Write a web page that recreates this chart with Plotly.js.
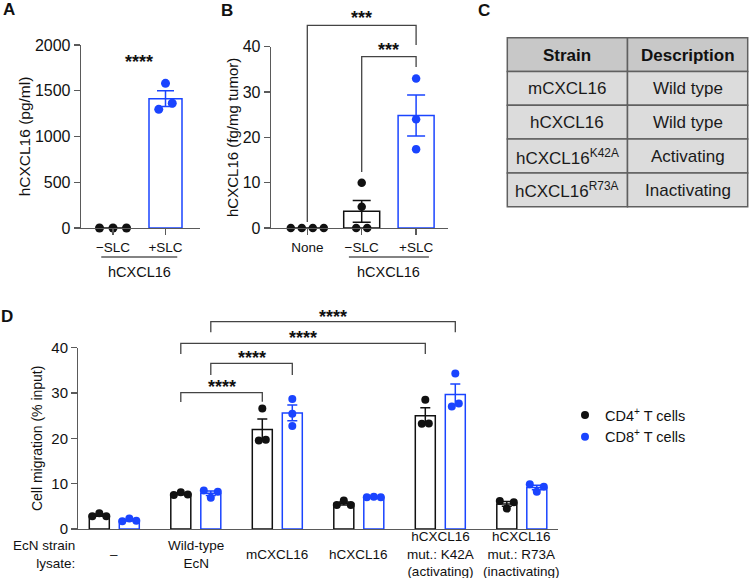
<!DOCTYPE html>
<html><head><meta charset="utf-8">
<script src="https://cdn.plot.ly/plotly-3.0.1.min.js"></script>
<style>html,body{margin:0;padding:0;background:#fff}#chart{width:750px;height:578px}</style>
</head><body><div id="chart"></div>
<script>
// ================= DATA =================
// Panel A: hCXCL16 (pg/ml)
const catsA = ["\u2212SLC", "+SLC"];
const groupLabelA = "hCXCL16";
const A_minusSLC = [0, 0, 0];
const A_plusSLC = [1297, 1581, 1363];
const ticksA = [0, 500, 1000, 1500, 2000];

// Panel B: hCXCL16 (fg/mg tumor)
const catsB = ["None", "\u2212SLC", "+SLC"];
const groupLabelB = "hCXCL16";
const B_none = [0, 0, 0, 0];
const B_minusSLC = [0, 4.7, 10, 0];
const B_plusSLC = [33.0, 24.0, 17.4];
const ticksB = [0, 10, 20, 30, 40];

// Panel C: table
const tableHeader = ["Strain", "Description"];
const strains = ["mCXCL16", "hCXCL16", "hCXCL16<sup>K42A</sup>", "hCXCL16<sup>R73A</sup>"];
const descriptions = ["Wild type", "Wild type", "Activating", "Inactivating"];

// Panel D: Cell migration (% input)
const catsD = ["\u2013", "Wild-type<br>EcN", "mCXCL16", "hCXCL16",
               "hCXCL16<br>mut.: K42A<br>(activating)", "hCXCL16<br>mut.: R73A<br>(inactivating)"];
const seriesD = ["CD4<sup>+</sup> T cells", "CD8<sup>+</sup> T cells"];
const D_none_CD4 = [2.8, 3.5, 2.8];
const D_none_CD8 = [1.7, 2.3, 1.8];
const D_wt_CD4 = [7.5, 8.1, 7.6];
const D_wt_CD8 = [8.5, 6.9, 8.2];
const D_m_CD4 = [19.5, 26.6, 19.7];
const D_m_CD8 = [28.7, 25.4, 22.7];
const D_h_CD4 = [5.3, 6.3, 5.3];
const D_h_CD8 = [7.0, 7.1, 7.0];
const D_k42a_CD4 = [23.2, 28.5, 23.3];
const D_k42a_CD8 = [27.0, 34.3, 27.7];
const D_r73a_CD4 = [6.2, 4.5, 5.9];
const D_r73a_CD8 = [9.9, 8.2, 9.3];
const ticksD = [0, 10, 20, 30, 40];
const starsLabel = "****";
const starsLabel3 = "***";

// ================= LAYOUT HELPERS =================
const W = 750, H = 578;
const px2x = p => p / W, px2y = p => 1 - p / H;
const FONT = "Liberation Sans, Arial, Helvetica, sans-serif";
const BLUE = "#1a44ff", BLACK = "#111111", AXC = "#5a5a5a", BRC = "#444444";

const mean = a => a.reduce((s, v) => s + v, 0) / a.length;
const sem = a => { const m = mean(a); const v = a.reduce((s, x) => s + (x - m) * (x - m), 0) / (a.length - 1); return Math.sqrt(v) / Math.sqrt(a.length); };

// geometry of each panel (pixels)
const gA = {x0: 81, x1: 200, yb: 228, yt: 45, c0: 113, unit: 52.5, ymax: 2000, bar: 33, cap: 8.5, diam: 9, step: 13.5, mk: 9};
const gB = {x0: 271, x1: 448, yb: 228, yt: 46.7, c0: 307.3, unit: 54.4, ymax: 40, bar: 36, cap: 9, diam: 8, step: 11, mk: 8.5};
const gD = {x0: 78.3, x1: 557.7, yb: 529, yt: 347.7, c0: 114.3, unit: 81.5, ymax: 40, bar: 20, cap: 5, diam: 8, step: 7, mk: 8};
[gA, gB, gD].forEach(g => { g.pyu = (g.yb - g.yt) / g.ymax; g.range = [(g.x0 - g.c0) / g.unit, (g.x1 - g.c0) / g.unit]; });
const gC = {x0: 507.3, x1: 747.7, y0: 37.7, row: 33.8};

// beeswarm-like horizontal spread of overlapping dots
function spread(vals, g) {
  const n = vals.length, off = new Array(n).fill(0);
  const idx = vals.map((v, i) => i).sort((a, b) => vals[a] - vals[b]);
  const clusters = []; let cur = [idx[0]];
  for (let k = 1; k < n; k++) {
    if ((vals[idx[k]] - vals[idx[k - 1]]) * g.pyu < g.diam) cur.push(idx[k]);
    else { clusters.push(cur); cur = [idx[k]]; }
  }
  clusters.push(cur);
  clusters.forEach(c => { c.sort((a, b) => a - b); c.forEach((i, j) => { off[i] = (j - (c.length - 1) / 2) * g.step / g.unit; }); });
  return off;
}

const traces = [];
function addGroup(xa, ya, g, xc, vals, color, legendName, legendGroup) {
  const s = sem(vals);
  traces.push({type: "bar", x: [xc], y: [mean(vals)], width: [g.bar / g.unit], xaxis: xa, yaxis: ya,
    marker: {color: "#ffffff", line: {color: color, width: 1.5}},
    error_y: {type: "data", array: [s], visible: s > 0, color: color, thickness: 1.5, width: g.cap},
    showlegend: false, hoverinfo: "skip"});
  const off = spread(vals, g);
  const t = {type: "scatter", mode: "markers", x: vals.map((v, i) => xc + off[i]), y: vals, xaxis: xa, yaxis: ya,
    marker: {color: color, size: g.mk}, cliponaxis: false, showlegend: !!legendName, hoverinfo: "y"};
  if (legendName) { t.name = legendName; t.legendgroup = legendGroup; }
  traces.push(t);
}

// Panel A
addGroup("x", "y", gA, 0, A_minusSLC, BLACK);
addGroup("x", "y", gA, 1, A_plusSLC, BLUE);
// Panel B
addGroup("x2", "y2", gB, 0, B_none, BLACK);
addGroup("x2", "y2", gB, 1, B_minusSLC, BLACK);
addGroup("x2", "y2", gB, 2, B_plusSLC, BLUE);
// Panel D
const dOff = 15 / gD.unit;
const D4 = [D_none_CD4, D_wt_CD4, D_m_CD4, D_h_CD4, D_k42a_CD4, D_r73a_CD4];
const D8 = [D_none_CD8, D_wt_CD8, D_m_CD8, D_h_CD8, D_k42a_CD8, D_r73a_CD8];
D4.forEach((v, i) => addGroup("x3", "y3", gD, i - dOff, v, BLACK, i === 0 ? seriesD[0] : null, "cd4"));
D8.forEach((v, i) => addGroup("x3", "y3", gD, i + dOff, v, BLUE, i === 0 ? seriesD[1] : null, "cd8"));

// ---------- axes ----------
function yAxis(g, ticks, title, tickSize, titleSize, standoff) {
  return {domain: [px2y(g.yb), px2y(g.yt)], range: [0, g.ymax], tickvals: ticks, ticks: "outside", ticklen: 6,
    tickwidth: 1.3, tickcolor: AXC, showline: true, linecolor: AXC, linewidth: 1.3, showgrid: false, zeroline: false,
    tickfont: {family: FONT, size: tickSize, color: "#111"},
    title: {text: title, font: {family: FONT, size: titleSize, color: "#111"}, standoff: standoff}};
}
function xAxis(g, cats, showTicks) {
  return {domain: [px2x(g.x0), px2x(g.x1)], range: g.range, tickvals: showTicks ? cats.map((c, i) => i) : [],
    ticktext: showTicks ? cats : [], ticks: showTicks ? "outside" : "", ticklen: 6, tickwidth: 1.3, tickcolor: AXC,
    showline: true, linecolor: AXC, linewidth: 1.3, showgrid: false, zeroline: false, showticklabels: showTicks,
    tickfont: {family: FONT, size: 13.5, color: "#111"}};
}

const shapes = [], annotations = [];
const line = (xref, x0, x1, y0, y1, color) => shapes.push({type: "line", xref: xref, yref: "paper", x0: x0, x1: x1, y0: px2y(y0), y1: px2y(y1), line: {color: color, width: 1.3}});
const bracket = (xref, xa, ya, xb, yb, ytop) => shapes.push({type: "path", xref: xref, yref: "paper",
  path: `M ${xa},${px2y(ya)} L ${xa},${px2y(ytop)} L ${xb},${px2y(ytop)} L ${xb},${px2y(yb)}`, line: {color: BRC, width: 1.3}});
const text = (xref, x, ypx, t, size, opts) => annotations.push(Object.assign({xref: xref, yref: "paper", x: x, y: px2y(ypx),
  text: t, showarrow: false, xanchor: "center", yanchor: "middle", font: {family: FONT, size: size, color: "#111"}}, opts || {}));
const stars = (xref, x, glyphY, t) => text(xref, x, glyphY + 4.5, "<b>" + t + "</b>", 18);

// Panel A extras
stars("x", 0.5, 57, starsLabel);
line("x", 0.5 - 38 / gA.unit, 0.5 + 38 / gA.unit, 257, 257, AXC);
text("x", 0.5, 272, groupLabelA, 14.5);
// Panel B extras
bracket("x2", 0, 222, 2, 45, 25.3);
stars("x2", 1, 14, starsLabel3);
bracket("x2", 1, 172, 2, 67, 56.7);
stars("x2", 1.5, 46, starsLabel3);
line("x2", 1.5 - 40 / gB.unit, 1.5 + 40 / gB.unit, 257, 257, AXC);
text("x2", 1.5, 272, groupLabelB, 14.5);

// Panel C: table drawn as cells (rows from the arrays)
const colMid = (gC.x0 + gC.x1) / 2;
const colX = [[gC.x0, colMid], [colMid, gC.x1]];
const rows = [tableHeader.map(h => "<b>" + h + "</b>")].concat(strains.map((s, i) => [s, descriptions[i]]));
rows.forEach((r, ri) => {
  const top = gC.y0 + ri * gC.row, bot = top + gC.row;
  r.forEach((cell, ci) => {
    shapes.push({type: "rect", xref: "paper", yref: "paper", x0: px2x(colX[ci][0]), x1: px2x(colX[ci][1]),
      y0: px2y(bot), y1: px2y(top), fillcolor: ri === 0 ? "#c8c8c8" : "#dcdcdc", line: {color: "#606060", width: 1.5}, layer: "below"});
    text("paper", px2x((colX[ci][0] + colX[ci][1]) / 2), (top + bot) / 2 + 0.5, cell, 17, {font: {family: FONT, size: 17, color: ri === 0 ? "#111" : "#1a1a1a"}});
  });
});

// Panel D extras
const b1 = [1 - dOff, 2 - dOff], b2 = [1 + dOff, 2 + dOff], b3 = [1 - dOff, 4 - dOff], b4 = [1 + dOff, 4 + dOff];
bracket("x3", b1[0], 402, b1[1], 401.7, 392.7); stars("x3", (b1[0] + b1[1]) / 2, 382, starsLabel);
bracket("x3", b2[0], 375, b2[1], 375, 363.3); stars("x3", (b2[0] + b2[1]) / 2, 353.3, starsLabel);
bracket("x3", b3[0], 354, b3[1], 354, 343.3); stars("x3", (b3[0] + b3[1]) / 2, 333.3, starsLabel);
bracket("x3", b4[0], 332.3, b4[1], 332.3, 321.7); stars("x3", (b4[0] + b4[1]) / 2, 312.2, starsLabel);
catsD.forEach((c, i) => text("x3", i, 554, c, 13.5));
text("paper", px2x(76.7), 554, "EcN strain<br>lysate:", 13.5, {xanchor: "right", align: "right"});

// panel letters
text("paper", px2x(9), 9.5, "<b>A</b>", 17);
text("paper", px2x(227), 10, "<b>B</b>", 17);
text("paper", px2x(484), 10, "<b>C</b>", 17);
text("paper", px2x(7), 316, "<b>D</b>", 17);

const layout = {
  width: W, height: H, margin: {l: 0, r: 0, t: 0, b: 0}, paper_bgcolor: "#fff", plot_bgcolor: "rgba(0,0,0,0)",
  font: {family: FONT, color: "#111"}, barmode: "overlay",
  xaxis: Object.assign(xAxis(gA, catsA, true), {anchor: "y"}),
  yaxis: Object.assign(yAxis(gA, ticksA, "hCXCL16 (pg/ml)", 16, 15.5, 0), {anchor: "x"}),
  xaxis2: Object.assign(xAxis(gB, catsB, true), {anchor: "y2"}),
  yaxis2: Object.assign(yAxis(gB, ticksB, "hCXCL16 (fg/mg tumor)", 16, 15, 0), {anchor: "x2"}),
  xaxis3: Object.assign(xAxis(gD, catsD, false), {anchor: "y3"}),
  yaxis3: Object.assign(yAxis(gD, ticksD, "Cell migration (% input)", 15, 14, 5), {anchor: "x3"}),
  showlegend: true,
  legend: {x: px2x(565), y: px2y(399), xanchor: "left", yanchor: "top", bgcolor: "rgba(0,0,0,0)",
    font: {family: FONT, size: 14.5, color: "#111"}, tracegroupgap: 0},
  shapes: shapes, annotations: annotations
};

Plotly.newPlot("chart", traces, layout, {displayModeBar: false, staticPlot: true});
</script></body></html>
